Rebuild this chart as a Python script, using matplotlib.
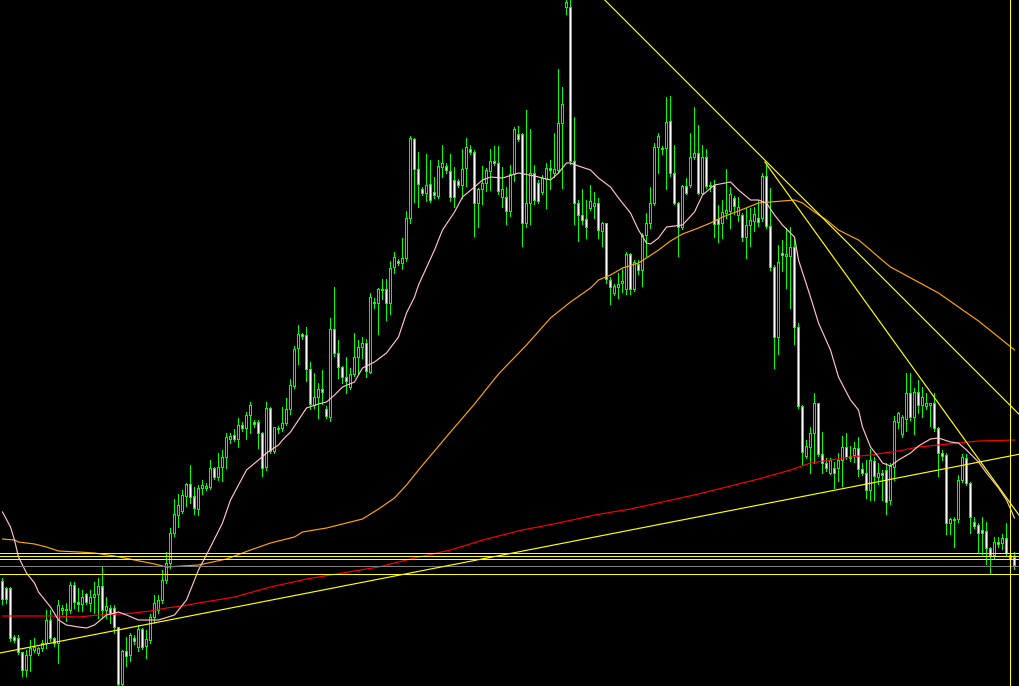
import numpy as np
import matplotlib
matplotlib.use("Agg")
import matplotlib.pyplot as plt

# One entry per bar, oldest first.
opens = [581, 588, 588, 637, 638, 652, 670, 655, 650, 653, 648, 643, 620, 638, 643, 610, 609, 610, 585, 602,
         604, 594, 603, 597, 594, 586, 610, 608, 608, 627, 684, 651, 655, 638, 647, 629, 646, 640, 617, 610,
         600, 580, 563, 533, 515, 511, 496, 484, 496, 509, 488, 488, 487, 468, 477, 467, 457, 439, 435, 439,
         425, 428, 415, 422, 422, 433, 467, 408, 451, 428, 428, 423, 409, 386, 348, 334, 335, 369, 405, 397,
         389, 409, 417, 329, 353, 367, 377, 387, 374, 357, 347, 343, 372, 302, 303, 289, 289, 303, 267, 261,
         263, 258, 218, 139, 169, 189, 193, 184, 192, 196, 167, 166, 171, 180, 181, 185, 168, 149, 152, 203,
         189, 183, 171, 161, 163, 197, 197, 211, 174, 134, 134, 223, 203, 173, 183, 192, 179, 168, 173, 170,
         123, 7, 7, 161, 203, 215, 219, 208, 206, 203, 231, 223, 280, 293, 287, 283, 289, 254, 289, 264,
         270, 235, 223, 203, 147, 148, 148, 121, 173, 203, 227, 186, 185, 157, 153, 193, 157, 185, 185, 219,
         223, 213, 211, 198, 215, 215, 237, 225, 221, 218, 218, 176, 226, 267, 337, 253, 256, 256, 247, 327,
         406, 456, 447, 433, 403, 454, 463, 473, 468, 468, 460, 447, 456, 455, 448, 469, 473, 490, 461, 477,
         473, 470, 500, 467, 422, 434, 419, 393, 417, 392, 405, 406, 405, 403, 428, 453, 455, 523, 519, 519,
         480, 458, 483, 522, 525, 530, 531, 548, 555, 542, 543, 538, 555, 557]
highs = [578, 587, 587, 635, 635, 652, 650, 640, 638, 647, 640, 610, 610, 637, 600, 605, 603, 582, 582, 588,
         590, 593, 590, 582, 578, 566, 597, 605, 605, 627, 650, 637, 633, 635, 625, 628, 630, 614, 595, 595,
         570, 552, 528, 499, 494, 490, 483, 465, 487, 485, 480, 483, 460, 467, 453, 450, 433, 433, 429, 418,
         422, 412, 402, 420, 420, 432, 402, 407, 427, 426, 407, 398, 379, 346, 325, 333, 327, 362, 373, 383,
         370, 406, 318, 287, 340, 366, 357, 368, 333, 340, 337, 339, 293, 298, 288, 279, 279, 261, 252, 259,
         238, 211, 136, 138, 152, 187, 154, 160, 177, 160, 145, 163, 154, 167, 179, 149, 138, 145, 150, 188,
         166, 168, 149, 146, 146, 167, 187, 165, 127, 126, 133, 110, 129, 165, 180, 175, 163, 160, 133, 69,
         87, 0, 0, 117, 200, 189, 200, 185, 192, 198, 222, 223, 277, 284, 273, 269, 252, 253, 260, 260,
         233, 213, 187, 143, 133, 146, 97, 96, 145, 202, 185, 178, 133, 107, 125, 145, 149, 182, 180, 205,
         200, 169, 187, 196, 197, 213, 208, 208, 207, 200, 173, 163, 188, 265, 245, 240, 228, 227, 238, 323,
         405, 440, 427, 393, 403, 432, 458, 458, 462, 453, 436, 433, 446, 442, 437, 463, 460, 449, 457, 463,
         470, 463, 463, 416, 412, 415, 373, 373, 388, 380, 387, 393, 403, 393, 427, 450, 453, 518, 517, 475,
         454, 454, 482, 517, 523, 517, 522, 547, 537, 537, 534, 523, 552, 552]
lows = [603, 602, 640, 641, 653, 675, 675, 670, 651, 654, 650, 647, 640, 645, 662, 613, 620, 612, 607, 610,
        610, 603, 610, 612, 617, 617, 617, 622, 632, 685, 686, 665, 660, 643, 650, 648, 657, 642, 622, 612,
        602, 582, 567, 535, 526, 512, 505, 502, 513, 514, 493, 489, 488, 478, 479, 480, 467, 442, 440, 446,
        430, 438, 432, 426, 447, 475, 469, 452, 452, 432, 430, 424, 413, 387, 363, 338, 380, 408, 407, 417,
        403, 417, 420, 355, 377, 382, 392, 388, 375, 373, 357, 376, 372, 307, 333, 298, 319, 313, 272, 264,
        268, 260, 222, 201, 206, 194, 200, 201, 197, 197, 176, 172, 200, 206, 186, 197, 185, 153, 235, 226,
        203, 190, 189, 164, 193, 206, 223, 215, 180, 140, 245, 226, 223, 203, 202, 193, 207, 188, 176, 172,
        187, 13, 163, 223, 240, 223, 237, 209, 217, 237, 245, 282, 303, 294, 297, 291, 293, 293, 290, 273,
        285, 255, 227, 204, 172, 153, 188, 175, 203, 255, 228, 193, 186, 158, 193, 193, 187, 190, 236, 241,
        237, 217, 227, 213, 220, 240, 257, 245, 230, 225, 220, 227, 269, 367, 353, 270, 287, 307, 343, 407,
        463, 457, 472, 462, 455, 472, 470, 473, 487, 480, 485, 458, 460, 461, 475, 474, 497, 499, 499, 483,
        499, 513, 503, 479, 427, 436, 430, 419, 433, 412, 416, 408, 425, 430, 475, 459, 533, 533, 546, 521,
        481, 484, 532, 527, 552, 553, 563, 573, 557, 546, 548, 555, 560, 568]
closes = [599, 599, 638, 640, 652, 670, 655, 648, 647, 648, 643, 620, 638, 643, 605, 608, 610, 585, 602, 604,
          597, 602, 597, 594, 586, 610, 606, 613, 627, 684, 651, 656, 635, 641, 629, 647, 639, 617, 603, 600,
          580, 563, 533, 514, 505, 495, 484, 497, 508, 488, 485, 486, 468, 477, 467, 457, 437, 436, 439, 425,
          428, 415, 405, 424, 433, 468, 408, 451, 427, 429, 423, 409, 385, 349, 334, 336, 369, 404, 397, 389,
          392, 416, 329, 353, 367, 377, 381, 374, 357, 347, 343, 371, 297, 303, 289, 290, 303, 268, 257, 263,
          258, 218, 138, 169, 184, 193, 185, 200, 195, 166, 163, 170, 197, 197, 185, 169, 147, 152, 203, 189,
          183, 170, 161, 163, 191, 189, 211, 174, 129, 139, 223, 203, 173, 200, 201, 178, 168, 170, 169, 123,
          104, 2, 161, 203, 215, 220, 227, 201, 203, 230, 223, 279, 287, 286, 284, 281, 254, 289, 262, 270,
          235, 223, 203, 147, 136, 149, 122, 173, 203, 227, 186, 193, 157, 153, 193, 157, 186, 186, 224, 224,
          212, 210, 194, 206, 207, 237, 225, 220, 214, 222, 176, 226, 267, 337, 262, 255, 254, 247, 327, 406,
          452, 446, 433, 403, 454, 463, 468, 460, 473, 460, 447, 457, 458, 448, 469, 473, 490, 460, 476, 473,
          475, 502, 466, 421, 413, 417, 393, 417, 392, 405, 397, 403, 403, 428, 453, 456, 523, 519, 520, 480,
          457, 483, 517, 526, 533, 533, 548, 555, 542, 544, 538, 553, 558, 565]

# moving averages, sampled at the bars where they were read
pink_bars = [0, 2, 3, 4, 6, 8, 9, 12, 14, 16, 19, 21, 23, 26, 29, 31, 34, 39, 43, 46, 49, 52, 55, 57, 61,
             64, 66, 69, 70, 72, 74, 76, 79, 81, 83, 85, 88, 90, 93, 96, 99, 101, 103, 104, 108, 110, 113,
             115, 118, 120, 122, 125, 129, 133, 137, 139, 141, 142, 144, 147, 149, 152, 154, 157, 159, 161,
             162, 164, 166, 170, 173, 175, 178, 182, 184, 187, 189, 191, 193, 195, 198, 199, 202, 204, 207,
             209, 212, 214, 215, 217, 219, 220, 222, 224, 227, 229, 232, 234, 237, 239, 241, 244, 246, 249,
             251, 253]
pink_vals = [512, 527, 540, 557, 573, 583, 592, 607, 620, 625, 627, 628, 625, 615, 612, 615, 620, 620, 615,
             600, 570, 547, 523, 500, 470, 460, 453, 445, 440, 432, 420, 408, 404, 402, 395, 387, 382, 368,
             362, 353, 337, 313, 297, 285, 250, 230, 212, 197, 187, 180, 177, 178, 173, 176, 180, 173, 163,
             163, 166, 170, 178, 187, 198, 213, 230, 243, 244, 238, 227, 225, 212, 195, 185, 182, 190, 200,
             200, 203, 215, 225, 237, 260, 297, 323, 350, 377, 400, 410, 427, 447, 457, 463, 466, 460, 453,
             446, 439, 438, 442, 443, 450, 462, 473, 488, 500, 518]

orange_bars = [0, 3, 4, 8, 11, 14, 19, 23, 28, 33, 38, 41, 45, 49, 56, 62, 67, 73, 75, 81, 85, 90, 94, 98,
               101, 104, 112, 118, 124, 131, 137, 142, 147, 149, 152, 155, 159, 161, 164, 167, 170, 174, 177,
               180, 184, 189, 192, 195, 198, 200, 203, 206, 209, 214, 217, 219, 222, 234, 244, 249, 253]
orange_vals = [539, 540, 542, 544, 547, 551, 552, 553, 556, 560, 564, 567, 566, 565, 559, 550, 543, 537, 532,
               528, 524, 519, 509, 498, 485, 470, 432, 404, 374, 345, 318, 302, 288, 280, 275, 268, 263, 258,
               250, 241, 234, 228, 223, 217, 211, 203, 202, 201, 200, 203, 212, 220, 230, 240, 250, 257, 267,
               293, 321, 337, 350]

red_bars = [0, 12, 19, 24, 29, 33, 37, 41, 45, 49, 58, 67, 76, 85, 94, 103, 112, 121, 130, 139, 148, 157,
            165, 174, 183, 189, 197, 202, 207, 212, 217, 224, 229, 234, 239, 244, 253]
red_vals = [616, 616, 617, 615, 614, 613, 611, 608, 606, 603, 597, 587, 579, 573, 567, 558, 550, 539, 530,
            523, 515, 509, 502, 494, 485, 479, 470, 463, 460, 457, 455, 451, 447, 445, 443, 441, 440]

# drawn objects: horizontal levels, trend lines (bar, price pairs), vertical marker
yellow_levels = [552, 555, 558, 573]
gray_levels = [565]
rising_line = [(0, 652.5), (250, 457.5)]
falling_line = [(151, 1.7), (250, 397.7)]
steep_line = [(190.6, 162), (255, 520)]
marker_bar = 252

GREEN = "#00ff00"
YELLOW = "#ffff00"
PX = 0.72    # one screen pixel in points at dpi 100
SLOPED = 0.85

fig = plt.figure(figsize=(10.2, 6.86), dpi=100, facecolor="black")
ax = fig.add_axes([0, 0, 1, 1])
ax.set_facecolor("black")

bars = np.arange(len(opens))
o = np.array(opens)
c = np.array(closes)
top = np.minimum(o, c)
bottom = np.maximum(o, c)
fills = np.where(c > o, "white", "black")  # rows grow downward: close below open = falling bar

# wicks, then a 3px green body with a 1px fill inside
ax.vlines(bars, highs, np.array(lows) + 1, color=GREEN, lw=PX, zorder=2, antialiased=False)
ax.bar(bars, bottom - top + 1, bottom=top, width=0.75, color=GREEN, linewidth=0,
       zorder=3, antialiased=False)
inner = bottom - top >= 2
ax.bar(bars[inner], (bottom - top - 1)[inner], bottom=(top + 1)[inner], width=0.25,
       color=fills[inner], linewidth=0, zorder=3.5, antialiased=False)

ax.plot(red_bars, red_vals, color="#ff0000", lw=SLOPED, zorder=4)
ax.plot(orange_bars, orange_vals, color="#ffa500", lw=SLOPED, zorder=4)
ax.plot(pink_bars, pink_vals, color="#ffc0cb", lw=SLOPED, zorder=4)

for lvl in yellow_levels:
    ax.axhline(lvl + 0.5, color=YELLOW, lw=PX, zorder=5, antialiased=False)
for lvl in gray_levels:
    ax.axhline(lvl + 0.5, color="#808080", lw=PX, zorder=5, antialiased=False)

ax.axline(rising_line[0], rising_line[1], color=YELLOW, lw=SLOPED, zorder=5)
ax.axline(falling_line[0], falling_line[1], color=YELLOW, lw=SLOPED, zorder=5)
ax.plot([p[0] for p in steep_line], [p[1] for p in steep_line], color=YELLOW, lw=SLOPED, zorder=5)
ax.axvline(marker_bar, color=YELLOW, lw=PX, zorder=5, antialiased=False)

# bar k sits on pixel column 2 + 4k
ax.set_xlim(-0.625, 254.375)
ax.set_ylim(686, 0)
ax.axis("off")

fig.savefig("out.png", dpi=100, facecolor="black")
